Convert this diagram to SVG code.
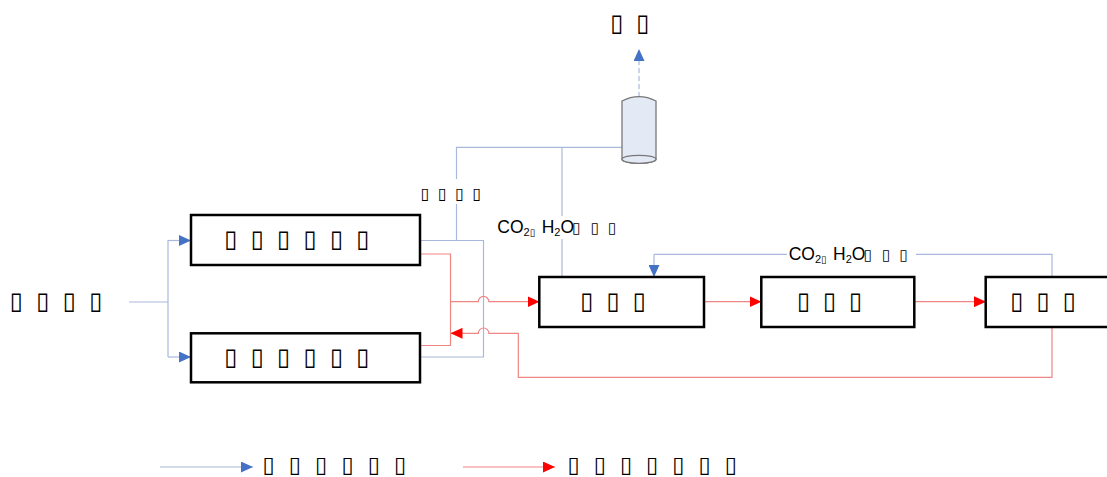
<svg xmlns="http://www.w3.org/2000/svg" width="1107" height="477" viewBox="0 0 1107 477">
<style>
.box{fill:#fff;stroke:#000;stroke-width:2.5}
.b{fill:none;stroke:#a9b8dc;stroke-width:1.2}
.r{fill:none;stroke:#f08585;stroke-width:1.2}
.tf{font-family:"DejaVu Sans",sans-serif;fill:#000}
.tf24{font-size:24px}
.tf22{font-size:22px}
.tf16{font-size:16px}
.lb{font-family:"Liberation Sans",Arial,sans-serif;font-size:17.5px;fill:#000}
.bg{fill:#fff}
</style>
<defs>
<marker id="ab" markerUnits="userSpaceOnUse" markerWidth="12" markerHeight="11" refX="12" refY="5.5" orient="auto"><path d="M0,0 L12,5.5 L0,11 z" fill="#4472c4"/></marker>
<marker id="ar" markerUnits="userSpaceOnUse" markerWidth="12" markerHeight="11" refX="12" refY="5.5" orient="auto"><path d="M0,0 L12,5.5 L0,11 z" fill="#ff0000"/></marker>
</defs>
<g id="connectors">
<path class="b" d="M129,302 H168 M168,240 V357"/>
<path class="b" d="M168,240.5 H191" marker-end="url(#ab)"/>
<path class="b" d="M168,357 H191" marker-end="url(#ab)"/>
<path class="b" d="M420,240.5 H483.5 V357 H420"/>
<path class="b" d="M456.5,240.5 V147.3 H622"/>
<path class="b" d="M562,147.3 V277"/>
<path class="b" d="M1052,277 V254.3 H654" />
<path class="b" d="M654,254.3 V277" marker-end="url(#ab)"/>
<path class="b" d="M639,97 V49" stroke-dasharray="5 3" marker-end="url(#ab)"/>
<path class="b" d="M160,467 H253" marker-end="url(#ab)"/>
<path class="r" d="M420,254 H450.5 V345.5 H420"/>
<path class="r" d="M450.5,301.7 H478.3 A5.3,5.3 0 0 1 488.9,301.7 H539.5" marker-end="url(#ar)"/>
<path class="r" d="M704,301.7 H761.5" marker-end="url(#ar)"/>
<path class="r" d="M914,301.7 H986" marker-end="url(#ar)"/>
<path class="r" d="M1052,327 V377.3 H518.3 V333.3 H488.9 A5.3,5.3 0 0 0 478.3,333.3 H450.5" marker-end="url(#ar)"/>
<path class="r" d="M463,467 H555" marker-end="url(#ar)"/>
</g>
<g id="source-label"><text class="tf tf24" x="9.8 36.3 62.8 89.3" y="309">▯▯▯▯</text></g>
<g id="reactor-top"><rect class="box" x="191" y="215" width="229" height="50"/><text class="tf tf24" x="224.3 250.7 277.1 303.5 329.9 356.3" y="247">▯▯▯▯▯▯</text></g>
<g id="reactor-bottom"><rect class="box" x="191" y="333.3" width="229" height="49"/><text class="tf tf24" x="224.3 250.7 277.1 303.5 329.9 356.3" y="365">▯▯▯▯▯▯</text></g>
<g id="unit-1"><rect class="box" x="539.3" y="277" width="164.7" height="50"/><text class="tf tf24" x="580.3 606.5 632.7" y="309">▯▯▯</text></g>
<g id="unit-2"><rect class="box" x="761.3" y="277" width="153" height="50"/><text class="tf tf24" x="797 823 849" y="309">▯▯▯</text></g>
<g id="unit-3"><rect class="box" x="985.7" y="277" width="140" height="50"/><text class="tf tf24" x="1010.3 1036.5 1062.7" y="309">▯▯▯</text></g>
<g id="tank"><path d="M622,101 V159.3 A17,4 0 0 0 656,159.3 V101 Q639,92.4 622,101 z" fill="#e3eaf5" stroke="#777" stroke-width="1.3"/><ellipse cx="639" cy="159.3" rx="17" ry="4" fill="#e3eaf5" stroke="#777" stroke-width="1.3"/></g>
<g id="vent-label"><text class="tf tf24" x="610.3 636.3" y="31">▯▯</text></g>
<g id="gas-label"><rect class="bg" x="420" y="179" width="69" height="25"/><text class="tf tf16" x="420.7 438 455.3 472.6" y="199">▯▯▯▯</text></g>
<g id="co2-label-1"><rect class="bg" x="496" y="216" width="127" height="23"/><text class="lb" x="497.3" y="233">CO<tspan font-size="11" dy="3">2</tspan><tspan class="tf" font-size="10">▯</tspan><tspan x="541.7" dy="-3">H</tspan><tspan font-size="11" dy="3">2</tspan><tspan dy="-3">O</tspan><tspan class="tf" font-size="15" x="572.3">▯</tspan><tspan class="tf" font-size="15" x="590.7">▯</tspan><tspan class="tf" font-size="15" x="608">▯</tspan></text></g>
<g id="co2-label-2"><rect class="bg" x="787" y="243" width="129" height="22"/><text class="lb" x="788.7" y="260">CO<tspan font-size="11" dy="3">2</tspan><tspan class="tf" font-size="10">▯</tspan><tspan x="833.1" dy="-3">H</tspan><tspan font-size="11" dy="3">2</tspan><tspan dy="-3">O</tspan><tspan class="tf" font-size="15" x="863.7">▯</tspan><tspan class="tf" font-size="15" x="882.1">▯</tspan><tspan class="tf" font-size="15" x="899.4">▯</tspan></text></g>
<g id="legend-blue"><text class="tf tf22" x="262.5 288.8 315.1 341.4 367.7 394" y="471.5">▯▯▯▯▯▯</text></g>
<g id="legend-red"><text class="tf tf22" x="567.5 593.7 619.9 646.1 672.3 698.5 724.7" y="471.5">▯▯▯▯▯▯▯</text></g>
</svg>
